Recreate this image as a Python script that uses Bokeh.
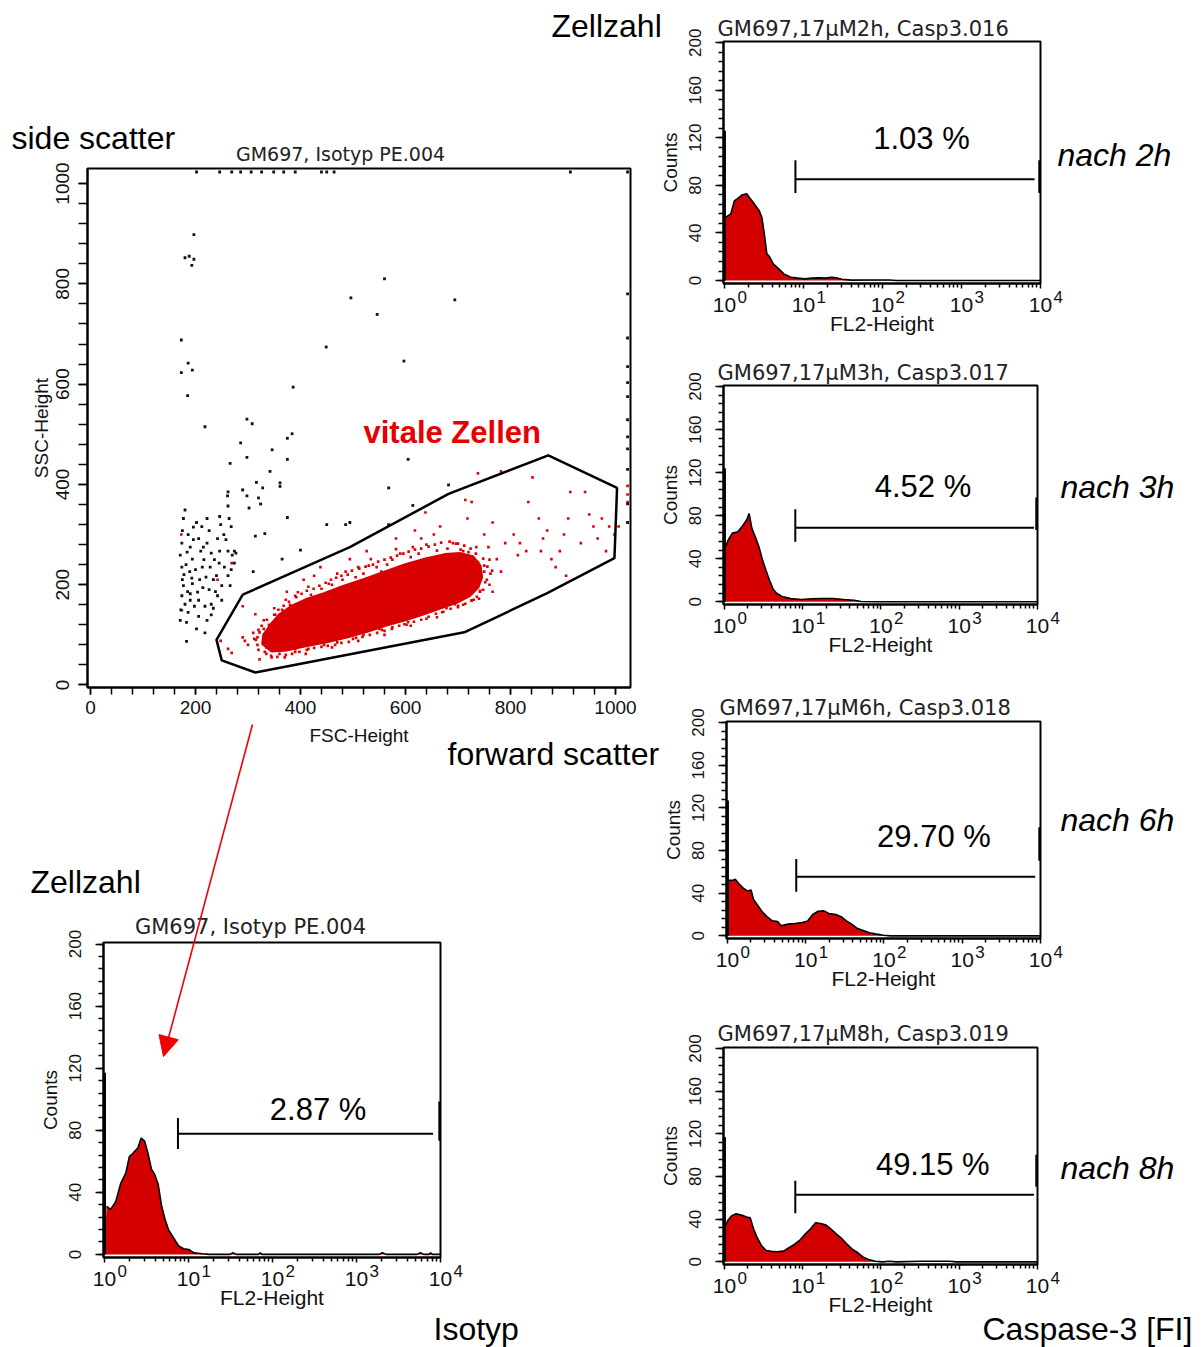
import numpy as np
from bokeh.plotting import figure
from bokeh.layouts import row, column
from bokeh.models import Label, Arrow, NormalHead, FixedTicker, Range1d
from bokeh.embed import file_html
from bokeh.resources import INLINE

# ---------------------------------------------------------------- data ----
# FSC-Height / SSC-Height dot plot
black_pts = [
    (197, 898), (180, 852), (188, 855), (197, 849), (193, 837), (173, 688), (173, 623), (186, 642), (194, 628), (185, 577),
    (218, 515), (298, 530), (308, 521), (286, 483), (298, 454), (346, 469), (375, 492), (384, 501), (375, 450), (386, 594),
    (449, 674), (496, 772), (546, 739), (560, 810), (597, 646), (694, 768), (605, 450), (568, 393), (316, 404), (328, 393),
    (320, 373), (324, 361), (342, 426), (361, 403), (361, 396), (375, 334), (314, 297), (332, 302), (298, 377), (302, 353),
    (290, 389), (262, 385), (261, 377), (266, 442), (262, 357), (264, 332), (268, 316), (246, 336), (254, 300), (274, 267),
    (277, 263), (310, 226), (365, 251), (400, 269), (450, 320), (486, 320), (494, 324), (614, 358), (682, 399), (568, 320),
    (180, 349), (177, 332), (175, 308), (174, 283), (171, 259), (174, 235), (175, 210), (177, 198), (174, 178), (171, 129),
    (183, 87), (186, 300), (190, 275), (194, 251), (189, 226), (194, 202), (190, 182), (198, 157), (186, 145), (202, 324),
    (206, 292), (210, 267), (213, 235), (208, 210), (214, 194), (206, 169), (218, 157), (222, 332), (226, 308), (222, 283),
    (230, 263), (228, 235), (234, 210), (238, 186), (230, 161), (242, 292), (246, 267), (245, 243), (240, 218), (250, 198),
    (242, 178), (234, 153), (262, 267), (270, 259), (274, 243), (262, 218), (266, 198), (250, 169), (180, 161), (185, 186),
    (190, 169), (206, 137), (218, 104), (183, 125), (202, 112), (222, 129), (178, 220), (182, 240), (196, 290), (200, 230),
    (204, 185), (216, 250), (220, 215), (226, 190), (236, 250), (212, 316), (196, 315), (184, 265), (172, 150), (230, 140),
    (255, 235), (258, 290), (248, 320), (268, 230), (215, 275), (193, 213),
]
# events piled up at the top / right edge of the scale
edge_pts = [
    (1023, 780), (1023, 692), (1023, 635), (1023, 603), (1023, 575), (1023, 529), (1023, 495), (1023, 471),
    (1023, 430), (1023, 361), (1023, 324),
    (202, 1023), (246, 1023), (269, 1023), (286, 1023), (306, 1023), (326, 1023), (349, 1023), (368, 1023),
    (390, 1023), (440, 1023), (450, 1023), (464, 1023), (914, 1023), (1023, 1023),
]
red_pts = [
    (290, 157), (314, 141), (269, 64), (248, 88), (262, 72), (294, 88), (310, 104), (330, 129), (322, 51), (173, 300),
    (290, 389), (269, 243), (242, 210), (174, 149),
    (390, 178), (426, 218), (454, 202), (486, 226), (510, 235), (534, 251), (554, 226), (582, 271), (614, 275), (630, 292),
    (654, 300), (666, 316), (690, 283), (710, 267), (718, 332), (726, 365), (738, 422), (782, 426), (714, 369), (750, 300),
    (758, 275), (774, 251), (790, 283), (806, 300), (814, 259), (830, 267), (842, 414), (834, 365), (854, 332), (862, 292),
    (870, 308), (878, 251), (886, 235), (894, 267), (902, 300), (910, 332), (914, 385), (934, 283), (942, 385), (950, 340),
    (958, 316), (966, 292), (974, 332), (982, 267), (988, 316), (998, 300), (1006, 316), (906, 218), (858, 267), (818, 283),
    (766, 324), (782, 226), (742, 186), (726, 169), (694, 161), (598, 121), (550, 112), (486, 96), (438, 88), (390, 72),
    (358, 72), (638, 344), (618, 308), (582, 292), (526, 267), (494, 251), (438, 235), (406, 210), (374, 186), (350, 153),
    (342, 112), (750, 226), (766, 186), (678, 153),
    (340, 120), (365, 150), (380, 160), (420, 180), (440, 192), (460, 200), (480, 210), (505, 215), (520, 222), (545, 235),
    (565, 240), (575, 250), (610, 255), (625, 262), (660, 268), (680, 272), (705, 270), (720, 265), (738, 245), (750, 238),
    (755, 210), (320, 70), (335, 62), (360, 62), (390, 66), (415, 72), (445, 80), (470, 85), (500, 92), (520, 100),
    (555, 110), (575, 115), (605, 125), (640, 132), (670, 145), (700, 155), (730, 170), (748, 190), (315, 90), (322, 105),
    (345, 55), (300, 80), (290, 95), (1023, 397), (1023, 380), (1023, 365),
    (372, 170), (395, 185), (415, 196), (470, 222), (530, 238), (590, 262), (640, 280), (700, 282), (735, 275), (760, 250),
    (765, 228), (760, 200), (740, 172), (710, 160), (660, 135), (610, 118), (560, 100), (510, 88), (460, 75), (410, 62),
    (370, 55), (335, 75), (318, 95), (330, 112), (352, 140),
    (350, 140), (358, 150), (368, 158), (378, 166), (392, 175), (402, 182), (412, 188), (425, 192), (436, 198), (448, 204),
    (458, 210), (468, 214), (478, 218), (490, 220), (498, 228), (512, 232), (524, 236), (538, 240), (548, 246), (560, 250),
    (572, 254), (584, 258), (596, 262), (606, 266), (618, 270), (630, 272), (644, 276), (656, 280), (668, 284), (684, 286),
    (696, 282), (712, 278), (724, 272), (734, 262), (748, 252), (756, 236), (762, 222), (752, 205), (742, 188),
    (332, 66), (344, 58), (356, 56), (372, 60), (384, 62), (398, 66), (412, 70), (426, 74), (440, 76), (452, 78),
    (466, 80), (478, 84), (492, 86), (506, 94), (518, 96), (532, 100), (546, 104), (560, 108), (574, 112), (588, 118),
    (602, 120), (616, 126), (630, 130), (644, 136), (658, 142), (672, 146), (686, 152), (700, 158), (714, 162), (726, 168),
    (736, 176), (318, 80), (312, 92), (320, 110), (326, 118), (336, 130),
]
# densest part of the "vitale Zellen" population
core_x = [330, 345, 360, 385, 410, 445, 480, 520, 560, 600, 640, 675, 705, 728, 742, 745, 738, 722, 700, 670, 635, 600,
          565, 530, 490, 450, 410, 375, 345, 328]
core_y = [100, 122, 140, 158, 170, 182, 196, 210, 225, 240, 252, 260, 262, 256, 238, 215, 195, 178, 166, 155, 142, 130,
          120, 108, 96, 86, 78, 70, 68, 82]
# gate polygon
gate_x = [290, 240, 250, 314, 712, 870, 998, 1003, 872, 682, 494, 290]
gate_y = [180, 90, 49, 25, 105, 183, 253, 393, 458, 381, 275, 180]

# FL2 histograms (channel value, counts)
iso_x = [1.057, 1.183, 1.360, 1.564, 1.798, 1.975, 2.168, 2.491, 2.735, 3.003, 3.297, 3.62, 3.97, 4.36, 4.79, 5.26,
         5.77, 6.63, 7.62, 8.76, 10.07, 11.6, 14.6, 17.6, 31, 34, 37, 68, 71.5, 75, 1860, 2040, 2240, 5240, 5750,
         6300, 7300, 7620, 8000, 10000]
iso_c = [31, 29, 34, 46, 52.5, 63, 65, 68.6, 75, 73, 65, 55, 51.4, 45, 31, 22.5, 16, 10.7, 5.4, 3.6, 3.2, 1, 0.4, 0,
         0, 1, 0, 0, 1, 0, 0, 1, 0, 0, 1, 0, 0, 1, 0, 0]
h2_x = [1.031, 1.204, 1.334, 1.479, 1.672, 1.912, 2.055, 2.230, 2.473, 2.742, 2.979, 3.20, 3.44, 3.73, 4.14, 4.83,
        5.64, 6.93, 8.49, 10.43, 12.8, 15.7, 19.4, 22.5, 26.4, 30.6, 39.9, 73.5, 123, 150, 10000]
h2_c = [53, 56, 67, 69, 72, 73, 70, 67, 63, 59, 53, 39, 22.5, 20, 14, 10, 5.6, 2.8, 2, 1.4, 2, 2.2, 2, 2.8, 2.2, 1.1,
        0.3, 0.5, 0.5, 0, 0]
h3_x = [1.032, 1.109, 1.269, 1.483, 1.680, 1.922, 2.066, 2.245, 2.492, 2.762, 3.062, 3.396, 3.765, 4.18, 4.64, 5.42,
        7.03, 9.61, 13.1, 17.9, 24.4, 33.3, 45.3, 55.8, 84, 10000]
h3_c = [51, 57, 64, 65, 70, 76, 82, 68, 60, 51, 39, 29, 20, 12, 8, 5, 3, 2.2, 2.8, 3.1, 3.1, 2.2, 1.5, 0.3, 0, 0]
h6_x = [1.042, 1.157, 1.257, 1.394, 1.579, 1.808, 2.005, 2.155, 2.467, 2.824, 3.199, 3.740, 4.37, 4.85, 5.96, 7.34,
        9.04, 10.6, 12.3, 14.4, 16.9, 19.7, 24.2, 28.3, 33.1, 38.7, 45.3, 53.0, 65.2, 80.2, 98.6, 121, 10000]
h6_c = [52, 52, 53, 49, 45, 42, 43, 34, 28, 22, 18, 14, 13.5, 9.4, 11, 11.6, 12.5, 14, 20, 23, 23.5, 21, 20, 18, 14,
        11, 7, 5.3, 2.8, 1.6, 0.6, 0, 0]
h8_x = [1.032, 1.109, 1.230, 1.408, 1.645, 1.922, 2.132, 2.365, 2.623, 3.00, 3.40, 3.97, 4.64, 5.71, 6.67, 7.80,
        9.12, 10.66, 12.46, 14.6, 17.0, 19.9, 23.2, 27.2, 31.7, 37.1, 43.4, 50.7, 59.3, 69.3, 85.1, 104, 128, 157,
        325, 749, 923, 10000]
h8_c = [34, 39, 43, 45, 44, 42, 41.4, 30.5, 22.6, 14.8, 10.7, 10, 9.4, 10, 13.2, 16.3, 20, 25.7, 30.5, 36.7, 36, 34.5,
        30.5, 25.7, 21.7, 16.3, 11.6, 8.5, 4.4, 2.2, 0.6, 0, 0.6, 0, 0.6, 0.6, 0, 0]
# counts in the first channel (tall bar at 10^0)
first_channel = {"I": 117, "H2": 126, "H3": 124, "H6": 127, "H8": 117}

panel_titles = {"A": "GM697, Isotyp PE.004", "I": "GM697, Isotyp PE.004",
                "H2": "GM697,17\u00b5M2h, Casp3.016", "H3": "GM697,17\u00b5M3h, Casp3.017",
                "H6": "GM697,17\u00b5M6h, Casp3.018", "H8": "GM697,17\u00b5M8h, Casp3.019"}
percent_text = {"I": "2.87 %", "H2": "1.03 %", "H3": "4.52 %", "H6": "29.70 %", "H8": "49.15 %"}
percent_pos = {"I": (349, 93.2), "H2": (312, 119.4), "H3": (344, 107), "H6": (435, 93.4), "H8": (459, 91)}
time_text = {"H2": "nach 2h", "H3": "nach 3h", "H6": "nach 6h", "H8": "nach 8h"}
# marker bar: y, x left, x right, left tick (y0,y1), right tick x, right tick (y0,y1)
marker = {"I": (77.8, 7.49, 8150, (68, 87.9), 9820, (73.3, 98.6)),
          "H2": (85.1, 7.91, 8400, (73.6, 101.1), 9790, (73.6, 101.1)),
          "H3": (68.8, 8.04, 9010, (55.8, 85.9), 9790, (66.7, 97)),
          "H6": (55.5, 7.57, 8550, (41.4, 72.1), 9800, (70.5, 101.9)),
          "H8": (62.8, 8.04, 9010, (45.5, 76), 9790, (70.3, 100.5))}
hist_data = {"I": (iso_x, iso_c), "H2": (h2_x, h2_c), "H3": (h3_x, h3_c), "H6": (h6_x, h6_c), "H8": (h8_x, h8_c)}

# ------------------------------------------------------------ layout ------
W, HGT = 1201, 1347
SPLIT = 655
LX0 = 10 ** -0.012
SPECS = {
    "A": dict(box=(0, 0, SPLIT, 850), frame=(87, 630, 168, 687), xr=(-5.7, 1028.6), yr=(-5, 1030), log=False),
    "I": dict(box=(0, 850, SPLIT, 497), frame=(103, 440, 942, 1257), xr=(LX0, 1e4), yr=(-2, 201), log=True),
    "H2": dict(box=(SPLIT, 0, W - SPLIT, 345), frame=(723, 1040, 41, 283), xr=(LX0, 1e4), yr=(-2.5, 201), log=True),
    "H3": dict(box=(SPLIT, 345, W - SPLIT, 335), frame=(723, 1037, 385, 604), xr=(LX0, 1e4), yr=(-2.5, 201), log=True),
    "H6": dict(box=(SPLIT, 680, W - SPLIT, 325), frame=(726, 1040, 721, 938), xr=(LX0, 1e4), yr=(-2.5, 201), log=True),
    "H8": dict(box=(SPLIT, 1005, W - SPLIT, 342), frame=(723, 1037, 1047, 1264), xr=(LX0, 1e4), yr=(-2.5, 201), log=True),
}
# positions (page pixels) of the texts around the panels
outer_texts = [
    # text, x, y, size, align, style, font, color
    (panel_titles["A"], 340, 153, "19px", "center", "normal", "DejaVu Sans", "#222222"),
    ("side scatter", 11, 137, "32px", "left", "normal", "Liberation Sans", "black"),
    ("Zellzahl", 551, 25, "32px", "left", "normal", "Liberation Sans", "black"),
    ("forward scatter", 447, 753, "32px", "left", "normal", "Liberation Sans", "black"),
    ("Zellzahl", 30, 881, "32px", "left", "normal", "Liberation Sans", "black"),
    (panel_titles["I"], 250, 926, "21px", "center", "normal", "DejaVu Sans", "#222222"),
    ("Isotyp", 433, 1328, "32px", "left", "normal", "Liberation Sans", "black"),
    (panel_titles["H2"], 717, 28, "21px", "left", "normal", "DejaVu Sans", "#222222"),
    (panel_titles["H3"], 717, 372, "21px", "left", "normal", "DejaVu Sans", "#222222"),
    (panel_titles["H6"], 719, 707, "21px", "left", "normal", "DejaVu Sans", "#222222"),
    (panel_titles["H8"], 717, 1033, "21px", "left", "normal", "DejaVu Sans", "#222222"),
    (time_text["H2"], 1057, 154, "32px", "left", "italic", "Liberation Sans", "black"),
    (time_text["H3"], 1060, 486, "32px", "left", "italic", "Liberation Sans", "black"),
    (time_text["H6"], 1060, 819, "32px", "left", "italic", "Liberation Sans", "black"),
    (time_text["H8"], 1060, 1167, "32px", "left", "italic", "Liberation Sans", "black"),
    ("Caspase-3 [FI]", 982, 1328, "32px", "left", "normal", "Liberation Sans", "black"),
]
arrow_from = (252, 724)
arrow_to = (163, 1056)

SANS = "Liberation Sans"
RED = "#d40000"


def make_fig(key):
    s = SPECS[key]
    ox, oy, w, h = s["box"]
    fl, fr, ft, fb = s["frame"]
    p = figure(width=w, height=h, x_range=Range1d(*s["xr"]), y_range=Range1d(*s["yr"]),
               x_axis_type="log" if s["log"] else "linear", output_backend="svg",
               toolbar_location=None, title=None, frame_align=False,
               min_border_left=fl - ox, min_border_right=ox + w - fr,
               min_border_top=ft - oy, min_border_bottom=oy + h - fb)
    p.xgrid.visible = False
    p.ygrid.visible = False
    p.outline_line_color = "black"
    p.outline_line_width = 2
    p.outline_line_alpha = 1
    p.background_fill_color = "white"
    p.border_fill_color = "white"
    for ax in (p.xaxis[0], p.yaxis[0]):
        ax.axis_line_width = 2
        ax.axis_line_color = "black"
        ax.major_tick_line_width = 1.5
        ax.minor_tick_line_width = 1.5
        ax.major_tick_line_color = "black"
        ax.minor_tick_line_color = "black"
        ax.major_tick_in = 0
        ax.minor_tick_in = 0
        ax.major_label_text_font = SANS
        ax.axis_label_text_font = SANS
        ax.axis_label_text_font_style = "normal"
        ax.major_label_text_color = "#111111"
        ax.axis_label_text_color = "#111111"
    p.yaxis[0].major_label_orientation = "vertical"
    return p


# ------------------------------------------------------------ scatter -----
A = make_fig("A")
A.xaxis[0].ticker = FixedTicker(ticks=[0, 200, 400, 600, 800, 1000], minor_ticks=list(range(0, 1025, 40)))
A.yaxis[0].ticker = FixedTicker(ticks=[0, 200, 400, 600, 800, 1000], minor_ticks=list(range(0, 1025, 40)))
A.xaxis[0].major_tick_out = 7
A.xaxis[0].minor_tick_out = 7
A.xaxis[0].major_label_standoff = 6
A.xaxis[0].major_label_text_font_size = "19px"
A.xaxis[0].axis_label = "FSC-Height"
A.xaxis[0].axis_label_standoff = 8
A.xaxis[0].axis_label_text_font_size = "19px"
A.yaxis[0].major_tick_out = 9
A.yaxis[0].minor_tick_out = 9
A.yaxis[0].major_label_standoff = 9
A.yaxis[0].major_label_text_font_size = "19px"
A.yaxis[0].axis_label = "SSC-Height"
A.yaxis[0].axis_label_standoff = 2
A.yaxis[0].axis_label_text_font_size = "19px"

A.patch(core_x, core_y, fill_color="#d80000", line_color="#d80000", line_width=3)
A.scatter([q[0] for q in red_pts], [q[1] for q in red_pts], marker="square", size=2.6,
          fill_color="#dc0000", line_color=None)
A.scatter([q[0] for q in black_pts + edge_pts], [q[1] for q in black_pts + edge_pts], marker="square",
          size=2.8, fill_color="#111111", line_color=None)
A.line(gate_x, gate_y, line_color="black", line_width=2.5)
A.add_layout(Label(x=689, y=503, text="vitale Zellen", text_font=SANS, text_font_size="31px",
                   text_font_style="bold", text_color="#e60000", text_align="center", text_baseline="middle"))


# ------------------------------------------------------------ histograms --
def hist_fig(key):
    p = make_fig(key)
    dec = [1, 10, 100, 1000, 10000]
    p.xaxis[0].ticker = FixedTicker(ticks=dec, minor_ticks=[m * d for d in dec[:-1] for m in range(2, 10)])
    p.xaxis[0].major_label_overrides = {d: "10" for d in dec}
    p.xaxis[0].major_tick_out = 5
    p.xaxis[0].minor_tick_out = 4
    p.xaxis[0].major_label_standoff = 9
    p.xaxis[0].major_label_text_font_size = "21px"
    p.xaxis[0].axis_label = "FL2-Height"
    p.xaxis[0].axis_label_standoff = -3
    p.xaxis[0].axis_label_text_font_size = "21px"
    p.yaxis[0].ticker = FixedTicker(ticks=[0, 40, 80, 120, 160, 200], minor_ticks=list(range(0, 201, 8)))
    p.yaxis[0].major_tick_out = 8
    p.yaxis[0].minor_tick_out = 5
    p.yaxis[0].major_label_standoff = 14
    p.yaxis[0].major_label_text_font_size = "17px"
    p.yaxis[0].axis_label = "Counts"
    p.yaxis[0].axis_label_standoff = 6
    p.yaxis[0].axis_label_text_font_size = "19px"

    xs, cs = hist_data[key]
    p.patch([1.0] + xs + [xs[-1]], [0] + cs + [0], fill_color=RED, line_color=None)
    p.line(xs, cs, line_color="black", line_width=1.6)
    p.segment(x0=[1.0], y0=[0], x1=[1.0], y1=[first_channel[key]], line_color="black", line_width=3)

    my, mx0, mx1, (ly0, ly1), rx, (ry0, ry1) = marker[key]
    p.segment(x0=[mx0, mx0], y0=[my, ly0], x1=[mx1, mx0], y1=[my, ly1], line_color="black", line_width=2)
    p.segment(x0=[rx], y0=[ry0], x1=[rx], y1=[ry1], line_color="black", line_width=3)

    px, py = percent_pos[key]
    p.add_layout(Label(x=px, y=py, text=percent_text[key], text_font=SANS, text_font_size="31px",
                       text_align="center", text_baseline="middle", text_color="black"))
    return p


I = hist_fig("I")
H = {key: hist_fig(key) for key in ["H2", "H3", "H6", "H8"]}

# --------------------------------------- transparent overlay for outer texts
O = figure(width=W, height=HGT, x_range=Range1d(0, W), y_range=Range1d(HGT, 0), output_backend="svg",
           toolbar_location=None, title=None, x_axis_location=None, y_axis_location=None,
           min_border=0, frame_align=False)
O.background_fill_color = None
O.border_fill_color = None
O.outline_line_color = None
O.grid.visible = False
for (t, x, y, size, align, style, font, color) in outer_texts:
    O.add_layout(Label(x=x, y=y, text=t, text_font=font, text_font_size=size, text_font_style=style,
                       text_color=color, text_align=align, text_baseline="middle"))
# exponents of the decade labels under every histogram
for key in ["I", "H2", "H3", "H6", "H8"]:
    fl, fr, ft, fb = SPECS[key]["frame"]
    dpx = (fr - fl) / (4 - np.log10(SPECS[key]["xr"][0]))
    for k in range(5):
        tick_px = fl + (k - np.log10(SPECS[key]["xr"][0])) * dpx
        O.add_layout(Label(x=tick_px + 13, y=fb + 13, text=str(k), text_font=SANS, text_font_size="17px",
                           text_align="left", text_baseline="middle", text_color="#111111"))
O.add_layout(Arrow(end=NormalHead(size=20, fill_color="#f00000", line_color="#f00000", line_width=1),
                   x_start=arrow_from[0], y_start=arrow_from[1], x_end=arrow_to[0], y_end=arrow_to[1],
                   line_color="#f00000", line_width=1.6))
O.margin = (-HGT, 0, 0, 0)

main = row(column(A, I), column(H["H2"], H["H3"], H["H6"], H["H8"]))
layout = column(main, O)

with open("out.html", "w") as f:
    f.write(file_html(layout, INLINE))
